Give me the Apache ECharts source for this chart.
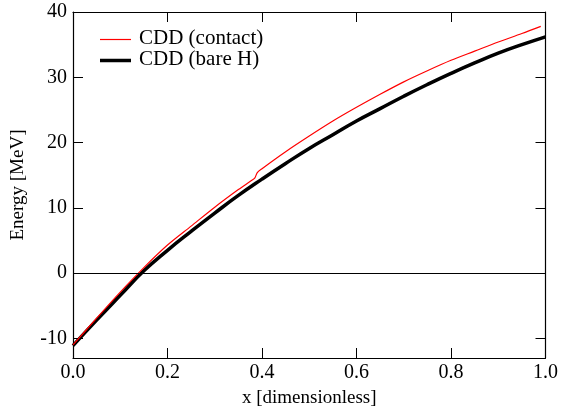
<!DOCTYPE html>
<html><head><meta charset="utf-8">
<script src="https://cdn.jsdelivr.net/npm/echarts@6/dist/echarts.min.js"></script>
<style>html,body{margin:0;padding:0;background:#fff}#c{width:561px;height:413px}</style>
</head><body><div id="c"></div>
<script>
var xBare = [0,0.05,0.1,0.15,0.2,0.25,0.3,0.35,0.4,0.45,0.5,0.55,0.6,0.65,0.7,0.75,0.8,0.85,0.9,0.95,1.0];
var yBare = [-11.1,-7.2,-3.4,0.35,3.5,6.4,9.2,11.9,14.4,16.8,19.1,21.2,23.3,25.2,27.1,28.9,30.6,32.2,33.7,35.0,36.2];
var xContact = [0,0.05,0.1,0.15,0.2,0.25,0.3,0.35,0.38,0.385,0.39,0.4,0.45,0.5,0.55,0.6,0.65,0.7,0.75,0.8,0.85,0.9,0.95,0.99];
var yContact = [-11.0,-6.9,-2.9,0.85,4.3,7.2,10.1,12.8,14.3,14.6,15.4,16.0,18.6,21.0,23.3,25.4,27.4,29.3,31.0,32.6,34.0,35.4,36.7,37.8];
var yTicks = [-10,0,10,20,30,40];
var seriesNames = ['CDD (contact)','CDD (bare H)'];

function pairs(xs, ys){ return xs.map(function(x,i){return [x, ys[i]];}); }
var font = 'Liberation Serif';
var chart = echarts.init(document.getElementById('c'), null, {renderer:'canvas'});
var axisLine = {show:true, onZero:false, lineStyle:{color:'#000', width:1.2}};
var tick = {inside:true, length:10, lineStyle:{color:'#000', width:1}};
chart.setOption({
  animation:false,
  grid:{left:73, top:12, right:14, bottom:55},
  graphic:[
    {type:'line', shape:{x1:100, y1:39.5, x2:131, y2:39.5}, style:{stroke:'#ff0000', lineWidth:1.2}},
    {type:'text', left:139, top:28, style:{text:seriesNames[0], font:'21px "Liberation Serif"', fill:'#000'}},
    {type:'line', shape:{x1:100, y1:60.5, x2:131, y2:60.5}, style:{stroke:'#000', lineWidth:3.5}},
    {type:'text', left:139, top:49, style:{text:seriesNames[1], font:'21px "Liberation Serif"', fill:'#000'}}
  ],
  xAxis:[{
    type:'value', min:0, max:1, interval:0.2,
    name:'x [dimensionless]', nameLocation:'middle', nameGap:31,
    nameTextStyle:{fontFamily:font, fontSize:19, color:'#000'},
    axisLine:axisLine, splitLine:{show:false}, axisTick:tick,
    axisLabel:{fontFamily:font, fontSize:20, color:'#000', margin:5, formatter:function(v){return v.toFixed(1);}}
  },{
    type:'value', position:'top', min:0, max:1, interval:0.2,
    axisLine:axisLine, splitLine:{show:false}, axisTick:tick,
    axisLabel:{show:false}
  }],
  yAxis:[{
    type:'value', min:-13, max:40,
    name:'Energy [MeV]', nameLocation:'middle', nameGap:45,
    nameTextStyle:{fontFamily:font, fontSize:19, color:'#000'},
    axisLine:axisLine, splitLine:{show:false},
    axisTick:{inside:true, length:10, lineStyle:{color:'#000', width:1}, customValues:yTicks},
    axisLabel:{fontFamily:font, fontSize:20, color:'#000', margin:6, customValues:yTicks}
  },{
    type:'value', position:'right', min:-13, max:40,
    axisLine:axisLine, splitLine:{show:false},
    axisTick:{inside:true, length:10, lineStyle:{color:'#000', width:1}, customValues:yTicks},
    axisLabel:{show:false, customValues:yTicks}
  }],
  series:[{
    name:seriesNames[0], type:'line', data:pairs(xContact,yContact),
    showSymbol:false, symbol:'none', smooth:0.3,
    lineStyle:{color:'#ff0000', width:1.2}, z:3,
    markLine:{silent:true, symbol:'none', label:{show:false}, lineStyle:{color:'#000', width:1.2, type:'solid'}, data:[{yAxis:0}]}
  },{
    name:seriesNames[1], type:'line', data:pairs(xBare,yBare),
    showSymbol:false, symbol:'none', smooth:true,
    lineStyle:{color:'#000', width:3.5}, z:2
  }]
});
</script></body></html>
